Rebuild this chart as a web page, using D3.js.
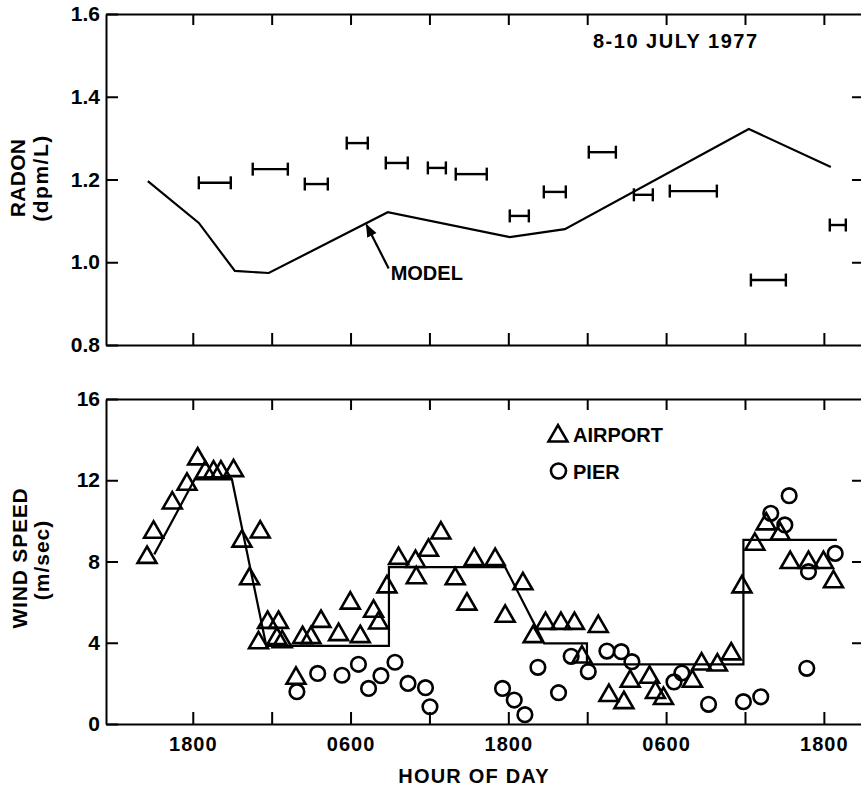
<!DOCTYPE html>
<html>
<head>
<meta charset="utf-8">
<script src="https://cdn.jsdelivr.net/npm/d3@7"></script>
<style>
  html, body { margin: 0; padding: 0; background: #fff; }
  svg text { font-family: "Liberation Sans", Arial, sans-serif; font-weight: bold; fill: #000; }
</style>
</head>
<body>
<svg id="chart" width="861" height="790"></svg>
<script>
// ---------------- DATA ----------------
// hours counted from 0000 on 8 July 1977
const hourTicks = [18, 24, 30, 36, 42, 48, 54, 60, 66];
const hourTickLabels = ["1800", "", "0600", "", "1800", "", "0600", "", "1800"];
const radonTicks = [0.8, 1.0, 1.2, 1.4, 1.6];
const radonTickLabels = ["0.8", "1.0", "1.2", "1.4", "1.6"];
const windTicks = [0, 4, 8, 12, 16];
const windTickLabels = ["0", "4", "8", "12", "16"];

// model radon curve: [hour, dpm/L]
const modelHours = [14.58, 18.46, 21.2, 23.78, 32.83, 42.11, 46.3, 60.29, 66.53];
const modelRadon = [1.196, 1.095, 0.979, 0.974, 1.121, 1.061, 1.080, 1.322, 1.230];

// measured radon: sampling interval start, end (hours) and value
const radonStart = [18.46, 22.56, 26.52, 29.71, 32.68, 35.88, 38.0, 42.11, 44.7, 48.12, 51.55, 54.28, 60.45, 66.45];
const radonEnd   = [20.89, 25.23, 28.27, 31.31, 34.35, 37.25, 40.36, 43.56, 46.37, 50.18, 52.99, 57.86, 63.11, 67.67];
const radonValue = [1.192, 1.225, 1.189, 1.288, 1.240, 1.228, 1.213, 1.112, 1.170, 1.266, 1.163, 1.172, 0.957, 1.090];

// airport wind speed (triangles)
const airportHours = [14.52, 15.02, 16.44, 17.56, 18.37, 18.95, 19.58, 20.14, 21.1, 21.74, 23.13, 22.32, 23.0, 23.69,
  24.52, 24.4, 24.8, 26.35, 26.99, 25.85, 27.75, 29.09, 29.98, 30.74, 31.75, 32.13, 32.77, 33.65, 34.94, 35.0,
  35.93, 36.87, 37.96, 38.85, 39.41, 41.0, 41.76, 43.11, 43.89, 44.83, 46.0, 47.03, 48.84, 47.6, 49.65, 50.79,
  51.27, 52.74, 53.19, 53.8, 56.0, 56.7, 57.9, 58.95, 59.77, 60.75, 61.61, 62.68, 63.44, 64.83, 65.97, 66.73];
const airportSpeed = [8.2, 9.44, 10.88, 11.8, 13.05, 12.4, 12.4, 12.4, 12.47, 9.0, 9.45, 7.15, 4.0, 5.0,
  5.0, 4.2, 4.05, 4.25, 4.25, 2.25, 5.05, 4.4, 5.95, 4.3, 5.55, 4.97, 6.75, 8.15, 8.0, 7.2,
  8.55, 9.4, 7.15, 5.9, 8.1, 8.1, 5.3, 6.9, 4.3, 4.95, 4.95, 4.95, 4.8, 3.3, 1.4, 1.05,
  2.1, 2.3, 1.55, 1.25, 2.1, 2.95, 2.9, 3.45, 6.75, 8.85, 9.85, 9.35, 7.95, 7.95, 7.95, 7.0];

// pier wind speed (circles)
const pierHours = [25.92, 27.5, 29.35, 30.6, 31.37, 32.31, 33.38, 34.37, 35.7, 36.04, 41.56, 42.45, 43.26, 44.25,
  45.82, 46.78, 48.08, 49.5, 50.59, 51.4, 54.6, 55.2, 57.23, 59.88, 61.2, 61.96, 63.03, 63.36, 64.7, 64.83, 66.86];
const pierSpeed = [1.59, 2.49, 2.4, 2.94, 1.75, 2.38, 3.04, 2.0, 1.79, 0.85, 1.75, 1.18, 0.46, 2.79,
  1.54, 3.33, 2.58, 3.59, 3.56, 3.07, 2.07, 2.51, 0.97, 1.1, 1.34, 10.37, 9.8, 11.24, 2.74, 7.5, 8.4];

// airport mean (stepped line)
const meanHours = [15.07, 18.14, 20.98, 23.59, 32.92, 32.92, 41.76, 44.73, 47.98, 47.98, 59.88, 59.88, 66.99];
const meanSpeed = [8.35, 12.04, 12.04, 3.85, 3.85, 7.72, 7.72, 3.97, 3.97, 2.94, 2.94, 9.06, 9.06];

// annotation: arrow from label to model curve
const arrowTail = [32.9, 0.985];
const arrowHead = [31.22, 1.09];
const modelLabelPos = [33.05, 0.957];

// ---------------- LAYOUT ----------------
const svg = d3.select("#chart");
const X0 = 106, X1 = 862;
const topPanel = { y0: 14, y1: 345 };
const botPanel = { y0: 399, y1: 724 };

const x = d3.scaleLinear().domain([11.4, 68.9]).range([X0, X1]);
const yR = d3.scaleLinear().domain([0.8, 1.6]).range([topPanel.y1, topPanel.y0]);
const yW = d3.scaleLinear().domain([0, 16]).range([botPanel.y1, botPanel.y0]);

const FS = 20;

function styleAxis(g, hideDomain) {
  g.selectAll(".tick line").attr("stroke", "#000").attr("stroke-width", 2);
  g.select(".domain").attr("stroke", hideDomain ? "none" : "#000").attr("stroke-width", 2);
  g.selectAll("text").attr("font-size", FS).attr("fill", "#000")
    .style("font-family", '"Liberation Sans", Arial, sans-serif').style("font-weight", "bold");
}

function panel(y, ticks, labels, xLabels) {
  const left = svg.append("g").attr("transform", `translate(${X0},0)`)
    .call(d3.axisLeft(y).tickValues(ticks).tickFormat((d, i) => labels[i]).tickSizeInner(-12).tickSizeOuter(0).tickPadding(6));
  styleAxis(left, false);
  left.selectAll("text").attr("font-size", 21);
  const right = svg.append("g").attr("transform", `translate(${X1},0)`)
    .call(d3.axisRight(y).tickValues(ticks.slice(1, -1)).tickFormat("").tickSizeInner(-10).tickSizeOuter(0));
  styleAxis(right, true);
  const ya = y.range()[1], yb = y.range()[0];
  const topAx = svg.append("g").attr("transform", `translate(0,${ya})`)
    .call(d3.axisTop(x).tickValues(hourTicks).tickFormat("").tickSizeInner(-11).tickSizeOuter(0));
  styleAxis(topAx, false);
  const botAx = svg.append("g").attr("transform", `translate(0,${yb})`)
    .call(d3.axisBottom(x).tickValues(hourTicks)
      .tickFormat((d, i) => xLabels ? hourTickLabels[i] : "").tickSizeInner(-12).tickSizeOuter(0).tickPadding(13));
  styleAxis(botAx, false);
  botAx.selectAll("text").attr("letter-spacing", 1);
}

panel(yR, radonTicks, radonTickLabels, false);
panel(yW, windTicks, windTickLabels, true);

// ---------------- TOP PANEL ----------------
const modelData = modelHours.map((h, i) => [h, modelRadon[i]]);
svg.append("path").datum(modelData)
  .attr("d", d3.line().x(d => x(d[0])).y(d => yR(d[1])))
  .attr("fill", "none").attr("stroke", "#000").attr("stroke-width", 2.2).attr("stroke-linejoin", "miter");

const bars = svg.append("g").attr("stroke", "#000").attr("stroke-width", 2.4);
radonValue.forEach((v, i) => {
  const xa = x(radonStart[i]), xb = x(radonEnd[i]), yy = yR(v);
  bars.append("line").attr("x1", xa).attr("x2", xb).attr("y1", yy).attr("y2", yy);
  bars.append("line").attr("x1", xa).attr("x2", xa).attr("y1", yy - 6.5).attr("y2", yy + 6.5);
  bars.append("line").attr("x1", xb).attr("x2", xb).attr("y1", yy - 6.5).attr("y2", yy + 6.5);
});

svg.append("defs").append("marker").attr("id", "ah")
  .attr("viewBox", "0 0 10 10").attr("refX", 9).attr("refY", 5)
  .attr("markerWidth", 13).attr("markerHeight", 13).attr("markerUnits", "userSpaceOnUse")
  .attr("orient", "auto")
  .append("path").attr("d", "M0,1 L10,5 L0,9 Z").attr("fill", "#000");
svg.append("line")
  .attr("x1", x(arrowTail[0])).attr("y1", yR(arrowTail[1]))
  .attr("x2", x(arrowHead[0])).attr("y2", yR(arrowHead[1]))
  .attr("stroke", "#000").attr("stroke-width", 2.2).attr("marker-end", "url(#ah)");
svg.append("text").attr("x", x(modelLabelPos[0])).attr("y", yR(modelLabelPos[1]))
  .attr("font-size", FS).text("MODEL");

svg.append("text").attr("x", 593).attr("y", 48).attr("font-size", FS).attr("letter-spacing", 1.5)
  .text("8-10 JULY 1977");

svg.append("text").attr("transform", "translate(25,178) rotate(-90)").attr("text-anchor", "middle")
  .attr("font-size", 21).attr("letter-spacing", 0.3).text("RADON");
svg.append("text").attr("transform", "translate(48,178) rotate(-90)").attr("text-anchor", "middle")
  .attr("font-size", 21).attr("letter-spacing", 1.5).text("(dpm/L)");

// ---------------- BOTTOM PANEL ----------------
const meanData = meanHours.map((h, i) => [h, meanSpeed[i]]);
svg.append("path").datum(meanData)
  .attr("d", d3.line().x(d => x(d[0])).y(d => yW(d[1])))
  .attr("fill", "none").attr("stroke", "#000").attr("stroke-width", 2.2);

const tri = d3.symbol().type(d3.symbolTriangle).size(155);
svg.append("g").selectAll("path").data(airportHours).join("path")
  .attr("transform", (h, i) => `translate(${x(h)},${yW(airportSpeed[i])})`)
  .attr("d", tri).attr("fill", "none")
  .attr("stroke", "#000").attr("stroke-width", 2.6).attr("stroke-linejoin", "miter");

svg.append("g").selectAll("circle").data(pierHours).join("circle")
  .attr("cx", h => x(h)).attr("cy", (h, i) => yW(pierSpeed[i])).attr("r", 7.3)
  .attr("fill", "none").attr("stroke", "#000").attr("stroke-width", 2.6);

svg.append("path").attr("transform", "translate(558,436)").attr("d", tri)
  .attr("fill", "none").attr("stroke", "#000").attr("stroke-width", 2.6);
svg.append("text").attr("x", 573).attr("y", 442).attr("font-size", FS).text("AIRPORT");
svg.append("circle").attr("cx", 558.5).attr("cy", 471).attr("r", 7.5)
  .attr("fill", "none").attr("stroke", "#000").attr("stroke-width", 2.6);
svg.append("text").attr("x", 573).attr("y", 479).attr("font-size", FS).text("PIER");

svg.append("text").attr("transform", "translate(27,558) rotate(-90)").attr("text-anchor", "middle")
  .attr("font-size", 21).attr("letter-spacing", 0.8).text("WIND SPEED");
svg.append("text").attr("transform", "translate(49,560) rotate(-90)").attr("text-anchor", "middle")
  .attr("font-size", 21).attr("letter-spacing", 1).text("(m/sec)");

svg.append("text").attr("x", 474).attr("y", 783).attr("text-anchor", "middle")
  .attr("font-size", FS).attr("letter-spacing", 1.2).text("HOUR OF DAY");
</script>
</body>
</html>
